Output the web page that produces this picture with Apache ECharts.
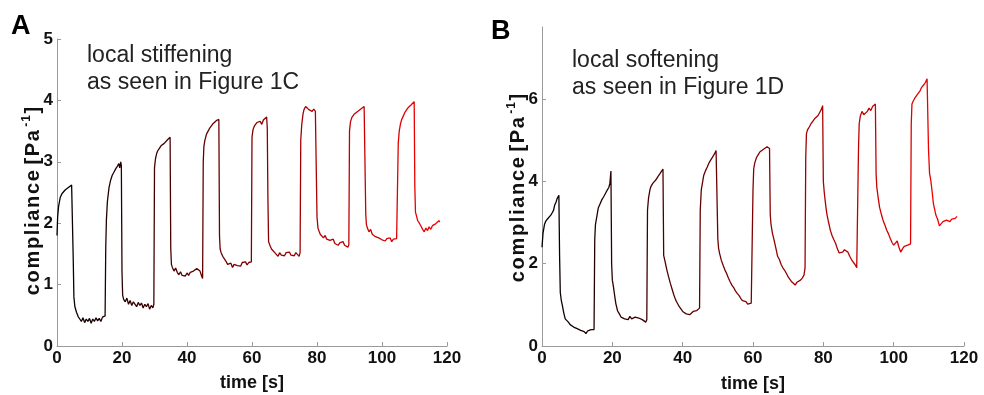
<!DOCTYPE html>
<html><head><meta charset="utf-8">
<script src="https://cdn.jsdelivr.net/npm/echarts@6/dist/echarts.min.js"></script>
<style>html,body{margin:0;padding:0;background:#fff}#c{width:984px;height:395px}</style>
</head><body><div id="c"></div>
<script>
// ---- data ----
const timeTicks = [0, 20, 40, 60, 80, 100, 120];
const yTicksA = [0, 1, 2, 3, 4, 5];
const yTicksB = [0, 2, 4, 6];
const panelLetters = ['A', 'B'];
const panelNotes = ['local stiffening\nas seen in Figure 1C', 'local softening\nas seen in Figure 1D'];
const xName = 'time [s]';
const yNameWord = 'compliance';
const yNameUnit = 'Pa';
const yNameExp = '-1';

// Panel A: [time s, compliance Pa^-1]
const stiffening = [
[0,1.80],[0.2,2.10],[0.5,2.28],[1,2.42],[1.5,2.48],[2,2.50],[2.5,2.54],[3,2.53],[3.5,2.58],[4,2.56],[4.5,2.62],[4.8,2.60],
[5.0,1.40],[5.2,0.80],[5.5,0.64],[6,0.55],[6.5,0.48],[7,0.44],[7.5,0.40],[8,0.46],[8.5,0.38],[9,0.44],[9.5,0.40],[10,0.45],[10.5,0.37],[11,0.44],[11.5,0.40],[12,0.46],[12.5,0.41],[13,0.45],[13.5,0.40],[14,0.47],[14.5,0.45],[14.8,0.49],
[15,1.60],[15.2,2.05],[15.5,2.35],[16,2.58],[16.5,2.70],[17,2.78],[17.5,2.83],[18,2.88],[18.5,2.92],[19,2.97],[19.3,2.90],[19.6,3.00],[19.8,2.94],
[20,1.20],[20.2,0.83],[20.5,0.76],[21,0.72],[21.5,0.78],[22,0.68],[22.5,0.74],[23,0.66],[23.5,0.72],[24,0.70],[24.5,0.64],[25,0.71],[25.5,0.66],[26,0.70],[26.5,0.62],[27,0.68],[27.5,0.64],[28,0.69],[28.5,0.60],[29,0.66],[29.5,0.62],[29.8,0.68],
[30,2.90],[30.3,3.05],[30.7,3.14],[31,3.18],[31.5,3.22],[32,3.26],[32.5,3.28],[33,3.30],[33.5,3.33],[34,3.36],[34.5,3.38],[34.8,3.40],
[35,1.60],[35.2,1.33],[35.5,1.28],[36,1.22],[36.5,1.27],[37,1.20],[37.5,1.16],[38,1.21],[38.5,1.15],[39,1.18],[39.5,1.14],[40,1.19],[40.5,1.15],[41,1.20],[41.5,1.17],[42,1.22],[42.5,1.20],[43,1.26],[43.5,1.29],[44,1.22],[44.5,1.14],[44.8,1.10],
[45,3.00],[45.2,3.25],[45.5,3.35],[46,3.45],[46.5,3.50],[47,3.55],[47.5,3.58],[48,3.62],[48.5,3.65],[49,3.67],[49.5,3.70],[49.8,3.69],
[50,1.80],[50.2,1.58],[50.5,1.52],[51,1.46],[51.5,1.42],[52,1.38],[52.5,1.33],[53,1.30],[53.5,1.35],[54,1.28],[54.5,1.33],[55,1.36],[55.5,1.31],[56,1.34],[56.5,1.30],[57,1.36],[57.5,1.33],[58,1.37],[58.5,1.32],[59,1.36],[59.5,1.34],[59.8,1.37],
[60,3.40],[60.3,3.52],[60.7,3.58],[61,3.60],[61.5,3.64],[62,3.62],[62.5,3.66],[63,3.61],[63.5,3.68],[64,3.70],[64.5,3.73],[64.7,3.55],
[64.9,2.40],[65.1,1.70],[65.5,1.64],[66,1.58],[66.5,1.56],[67,1.52],[67.5,1.50],[68,1.46],[68.5,1.52],[69,1.48],[69.5,1.51],[70,1.47],[70.5,1.52],[71,1.49],[71.5,1.53],[72,1.48],[72.5,1.51],[73,1.47],[73.5,1.52],[74,1.50],[74.5,1.46],[74.8,1.52],
[75,3.35],[75.3,3.60],[75.7,3.78],[76,3.85],[76.5,3.90],[77,3.88],[77.5,3.85],[78,3.87],[78.5,3.82],[79,3.86],[79.5,3.82],[79.8,3.84],
[80,2.10],[80.3,1.92],[80.7,1.86],[81,1.82],[81.5,1.79],[82,1.76],[82.5,1.80],[83,1.74],[83.5,1.77],[84,1.72],[84.5,1.70],[85,1.74],[85.5,1.67],[86,1.70],[86.5,1.64],[87,1.68],[87.5,1.66],[88,1.70],[88.5,1.64],[89,1.67],[89.5,1.61],[89.8,1.65],
[90,3.50],[90.3,3.65],[90.7,3.72],[91,3.75],[91.5,3.78],[92,3.80],[92.5,3.82],[93,3.84],[93.5,3.86],[94,3.88],[94.5,3.90],[94.8,3.91],
[95,2.15],[95.2,1.98],[95.5,1.92],[96,1.86],[96.5,1.90],[97,1.82],[97.5,1.84],[98,1.78],[98.5,1.80],[99,1.76],[99.5,1.79],[100,1.73],[100.5,1.76],[101,1.71],[101.5,1.75],[102,1.72],[102.5,1.76],[103,1.70],[103.5,1.74],[104,1.71],[104.5,1.75],[104.8,1.72],
[105,3.30],[105.3,3.50],[105.7,3.62],[106,3.68],[106.5,3.74],[107,3.80],[107.5,3.84],[108,3.88],[108.5,3.91],[109,3.93],[109.5,3.96],[109.9,3.98],
[110.1,2.60],[110.3,2.18],[110.7,2.10],[111,2.04],[111.5,2.00],[112,1.95],[112.5,1.90],[113,1.86],[113.5,1.92],[114,1.88],[114.5,1.94],[115,1.90],[115.5,1.96],[116,1.93],[116.5,1.99],[117,1.97],[117.5,2.04],[117.8,2.02]
];

// Panel B: [time s, compliance Pa^-1]
const softening = [
[0,2.40],[0.3,2.75],[0.7,2.95],[1,3.02],[1.5,3.08],[2,3.12],[2.5,3.18],[3,3.25],[3.3,3.30],[3.6,3.42],[4,3.50],[4.3,3.58],[4.6,3.55],[4.8,3.66],
[5.0,2.20],[5.2,1.30],[5.5,1.10],[5.8,0.98],[6.2,0.80],[6.6,0.66],[7,0.62],[7.5,0.58],[8,0.52],[8.5,0.55],[9,0.46],[9.5,0.48],[10,0.42],[10.5,0.45],[11,0.38],[11.5,0.40],[12,0.35],[12.5,0.30],[13,0.37],[13.5,0.35],[14,0.40],[14.5,0.37],[14.8,0.40],
[15,2.60],[15.2,2.95],[15.5,3.10],[16,3.35],[16.5,3.45],[17,3.55],[17.5,3.62],[18,3.70],[18.5,3.78],[19,3.85],[19.3,3.95],[19.6,4.25],
[19.8,2.00],[20,1.60],[20.3,1.45],[20.7,1.20],[21,1.03],[21.5,0.85],[22,0.78],[22.5,0.70],[23,0.74],[23.5,0.66],[24,0.70],[24.5,0.64],[25,0.72],[25.5,0.66],[26,0.62],[26.5,0.70],[27,0.74],[27.5,0.68],[28,0.72],[28.5,0.64],[29,0.66],[29.5,0.58],[29.8,0.64],
[30,3.30],[30.3,3.60],[30.7,3.80],[31,3.88],[31.5,3.95],[32,4.00],[32.5,4.05],[33,4.12],[33.5,4.18],[34,4.25],[34.4,4.30],
[34.6,2.20],[35,2.05],[35.5,1.85],[36,1.68],[36.5,1.52],[37,1.38],[37.5,1.24],[38,1.12],[38.5,1.04],[39,0.96],[39.5,0.90],[40,0.84],[40.5,0.80],[41,0.78],[41.5,0.82],[42,0.76],[42.5,0.80],[43,0.84],[43.5,0.80],[44,0.86],[44.5,0.88],[44.8,0.92],
[45,3.30],[45.3,3.80],[45.7,4.00],[46,4.15],[46.5,4.26],[47,4.35],[47.5,4.45],[48,4.52],[48.5,4.59],[49,4.66],[49.5,4.75],[49.8,4.78],
[50,2.60],[50.2,2.38],[50.5,2.25],[51,2.08],[51.5,1.96],[52,1.85],[52.5,1.76],[53,1.65],[53.5,1.56],[54,1.48],[54.5,1.42],[55,1.34],[55.5,1.28],[56,1.23],[56.5,1.16],[57,1.10],[57.5,1.06],[58,1.08],[58.5,1.02],[59,1.06],[59.5,1.04],[59.8,1.08],
[60,3.80],[60.2,4.30],[60.5,4.45],[61,4.58],[61.5,4.65],[62,4.72],[62.5,4.75],[63,4.78],[63.5,4.80],[64,4.84],[64.5,4.82],[64.7,4.80],
[64.9,3.20],[65.1,2.97],[65.5,2.75],[66,2.57],[66.5,2.38],[67,2.18],[67.5,2.10],[68,1.98],[68.5,1.90],[69,1.84],[69.5,1.76],[70,1.68],[70.5,1.64],[71,1.56],[71.5,1.52],[72,1.48],[72.5,1.55],[73,1.58],[73.5,1.60],[74,1.65],[74.5,1.72],[74.8,1.90],
[75,4.60],[75.2,5.16],[75.5,5.25],[76,5.32],[76.5,5.40],[77,5.46],[77.5,5.52],[78,5.56],[78.5,5.60],[79,5.68],[79.5,5.76],[79.8,5.84],
[80,4.00],[80.3,3.70],[80.7,3.40],[81,3.21],[81.5,3.00],[82,2.81],[82.5,2.68],[83,2.58],[83.5,2.49],[84,2.36],[84.5,2.26],[85,2.22],[85.5,2.28],[86,2.34],[86.5,2.36],[87,2.28],[87.5,2.18],[88,2.10],[88.5,2.04],[89,1.98],[89.5,1.90],[89.8,1.94],
[90,4.80],[90.2,5.40],[90.5,5.58],[91,5.70],[91.5,5.62],[92,5.58],[92.5,5.70],[93,5.78],[93.5,5.72],[94,5.82],[94.5,5.86],[94.8,5.88],
[95,4.20],[95.2,3.86],[95.6,3.60],[96,3.37],[96.5,3.20],[97,3.05],[97.5,2.94],[98,2.82],[98.5,2.73],[99,2.62],[99.5,2.52],[100,2.45],[100.5,2.50],[101,2.55],[101.5,2.40],[102,2.28],[102.5,2.36],[103,2.42],[103.5,2.38],[104,2.45],[104.5,2.42],[104.8,2.48],
[105,5.40],[105.2,5.88],[105.5,5.94],[106,6.02],[106.5,6.08],[107,6.12],[107.5,6.20],[108,6.29],[108.5,6.34],[109,6.40],[109.5,6.49],[109.7,6.52],
[109.9,4.80],[110.2,4.20],[110.6,4.00],[111,3.70],[111.3,3.46],[111.7,3.30],[112,3.18],[112.5,3.08],[113,2.92],[113.5,2.96],[114,3.02],[114.5,2.98],[115,3.06],[115.5,3.10],[116,3.02],[116.5,3.08],[117,3.12],[117.5,3.10],[118,3.15]
];

// ---- styling / layout ----
const FONT = "'Liberation Sans', Arial, Helvetica, sans-serif";
const AXIS_GRAY = '#9a9a9a';
const HS = '\u200A';
const spaced = s => s.split('').join(HS);

function xAxisCfg(gi) {
  return {
    gridIndex: gi, type: 'value', min: 0, max: 120, interval: 20,
    axisLine: { lineStyle: { color: AXIS_GRAY, width: 1 } },
    axisTick: { inside: true, length: 4, lineStyle: { color: AXIS_GRAY } },
    axisLabel: { color: '#111', fontFamily: FONT, fontWeight: 'bold', fontSize: 17, margin: 4,
                 customValues: timeTicks },
    splitLine: { show: false }
  };
}
function yAxisCfg(gi, max, ticks, interval) {
  return {
    gridIndex: gi, type: 'value', min: 0, max: max, interval: interval,
    axisLine: { show: true, lineStyle: { color: AXIS_GRAY, width: 1 } },
    axisTick: { show: true, inside: true, length: 4, lineStyle: { color: AXIS_GRAY }, customValues: ticks },
    axisLabel: { color: '#111', fontFamily: FONT, fontWeight: 'bold', fontSize: 17, margin: 4, customValues: ticks },
    splitLine: { show: false }
  };
}
function yNameText(x, y) {
  return {
    type: 'text', x: x, y: y, rotation: Math.PI / 2,
    style: {
      text: '{b|' + spaced(yNameWord) + ' ' + spaced('[' + yNameUnit) + HS + HS + '}{s|' + spaced(yNameExp) + '}{b|' + HS + ']}',
      align: 'center', verticalAlign: 'middle', fill: '#111',
      rich: {
        b: { fontFamily: FONT, fontWeight: 'bold', fontSize: 20, lineHeight: 24, verticalAlign: 'middle', fill: '#111' },
        s: { fontFamily: FONT, fontWeight: 'bold', fontSize: 12, lineHeight: 24, verticalAlign: 'top', fill: '#111' }
      }
    }
  };
}
function label(x, y, text, opts) {
  return { type: 'text', x: x, y: y, style: Object.assign({ text: text, fill: '#111', fontFamily: FONT }, opts) };
}

const chart = echarts.init(document.getElementById('c'), null, { renderer: 'canvas' });
chart.setOption({
  animation: false,
  backgroundColor: '#fff',
  grid: [
    { left: 57, top: 39, width: 390, height: 307 },
    { left: 542, top: 27, width: 422, height: 319 }
  ],
  xAxis: [xAxisCfg(0), xAxisCfg(1)],
  yAxis: [yAxisCfg(0, 5, yTicksA, 1), yAxisCfg(1, 7.75, yTicksB, 2)],
  visualMap: [
    { type: 'continuous', show: false, seriesIndex: 0, dimension: 0, min: 0, max: 120, inRange: { color: ['#000000', '#ff0000'] } },
    { type: 'continuous', show: false, seriesIndex: 1, dimension: 0, min: 0, max: 120, inRange: { color: ['#000000', '#ff0000'] } }
  ],
  series: [
    { type: 'line', xAxisIndex: 0, yAxisIndex: 0, data: stiffening, showSymbol: false, symbol: 'none', lineStyle: { width: 1.3 } },
    { type: 'line', xAxisIndex: 1, yAxisIndex: 1, data: softening, showSymbol: false, symbol: 'none', lineStyle: { width: 1.3 } }
  ],
  graphic: [
    label(11, 27, panelLetters[0], { fontSize: 27, fontWeight: 'bold', verticalAlign: 'middle', fill: '#000' }),
    label(491, 32, panelLetters[1], { fontSize: 27, fontWeight: 'bold', verticalAlign: 'middle', fill: '#000' }),
    label(87, 42, panelNotes[0], { fontSize: 23, lineHeight: 27, verticalAlign: 'top', fill: '#222' }),
    label(572, 47, panelNotes[1], { fontSize: 23, lineHeight: 27, verticalAlign: 'top', fill: '#222' }),
    label(252, 383, xName, { fontSize: 18, fontWeight: 'bold', align: 'center', verticalAlign: 'middle' }),
    label(753, 384, xName, { fontSize: 18, fontWeight: 'bold', align: 'center', verticalAlign: 'middle' }),
    yNameText(33, 201),
    yNameText(518, 188)
  ]
});
</script>
</body></html>
